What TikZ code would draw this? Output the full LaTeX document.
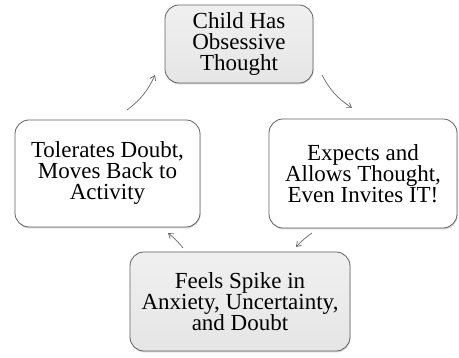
\documentclass[tikz,border=0pt]{standalone}
\usepackage{fontspec}
\setmainfont{Liberation Serif}
\usetikzlibrary{arrows.meta,shadows}
\begin{document}
\begin{tikzpicture}[x=1pt,y=-1pt,
  stage/.style={draw=black!62, line width=0.8pt, rounded corners=14pt,
    align=center, inner sep=0pt, font=\fontsize{23}{21}\selectfont,
    fill=white,
    drop shadow={shadow xshift=0.6pt, shadow yshift=-1.4pt, opacity=0.3, fill=black!55}},
  keystage/.style={stage, top color=black!6, bottom color=black!10},
  cycle/.style={draw=black!60, line width=0.7pt,
    -{Straight Barb[length=4.5pt,width=6pt]}}]
\useasboundingbox (0,0) rectangle (459,358);

% the four stages of the cycle
\node[keystage, minimum width=148pt, minimum height=78pt] (thought) at (239,44)
  {Child Has\\Obsessive\\Thought};
\node[stage, minimum width=188pt, minimum height=109pt] (allow) at (363,173.5)
  {Expects and\\Allows Thought,\\Even Invites IT!};
\node[keystage, minimum width=220pt, minimum height=99pt] (spike) at (240,301.5)
  {Feels Spike in\\Anxiety, Uncertainty,\\and Doubt};
\node[stage, minimum width=185pt, minimum height=107pt] (tolerate) at (107.5,173.5)
  {Tolerates Doubt,\\Moves Back to\\Activity};

% ends of the connecting arcs
\coordinate (a1) at (322,75);  \coordinate (b1) at (352,108);
\coordinate (a2) at (312,233); \coordinate (b2) at (296,247);
\coordinate (a3) at (183,248); \coordinate (b3) at (168,233);
\coordinate (a4) at (127,110); \coordinate (b4) at (155,75);

% clockwise arcs between the stages
\draw[cycle] (a1) to[bend right=14] (b1);
\draw[cycle] (a2) to[bend right=6] (b2);
\draw[cycle] (a3) to[bend right=6] (b3);
\draw[cycle] (a4) to[bend right=14] (b4);
\end{tikzpicture}
\end{document}
